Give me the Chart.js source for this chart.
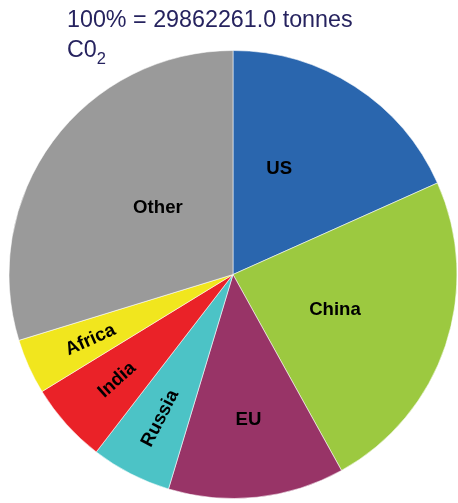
<!DOCTYPE html>
<html>
<head>
<meta charset="utf-8">
<script src="https://cdn.jsdelivr.net/npm/chart.js@4.4.0/dist/chart.umd.min.js"></script>
<style>
  body { margin: 0; background: #fff; }
  #wrap { position: relative; width: 458px; height: 503px; }
  #emissions { position: absolute; left: 0; top: 0; }
  .heading {
    position: absolute; left: 67px; top: 4px; z-index: 2;
    font-family: "Liberation Sans", Arial, sans-serif;
    font-size: 23.3px; line-height: 30px; color: #26235f;
  }
  .heading .sub { font-size: 16.5px; position: relative; top: 7px; }
</style>
</head>
<body>
<div id="wrap">
  <div class="heading">100% = 29862261.0 tonnes<br>C0<span class="sub">2</span></div>
  <canvas id="emissions" width="458" height="503"></canvas>
</div>
<script>
// Emisiones por region (% del total)

let regions = ["US", "China", "EU", "Russia", "India", "Africa", "Other"];
let shares = [18.3, 23.65, 12.7, 5.8, 5.8, 4.0, 29.75];
let sliceColors = ["#2a66ae", "#9cc940", "#983467", "#4cc3c6", "#ea2228", "#f1e61e", "#9a9a9a"];

// Donde va cada etiqueta dentro de su porcion
let labelRadius = [0.52, 0.48, 0.65, 0.72, 0.70, 0.70, 0.45];
let labelShift = [-9.6, 0, 0, 0, 0, 0, 5.4];
let labelTurned = [false, false, false, true, true, true, false];

// Etiquetas sobre las porciones

const sliceLabels = {
  id: "sliceLabels",
  afterDatasetsDraw(chart) {
    let ctx = chart.ctx;
    let meta = chart.getDatasetMeta(0);
    ctx.save();
    ctx.font = "bold 18.6px 'Liberation Sans', Arial, sans-serif";
    ctx.fillStyle = "#000";
    ctx.textAlign = "center";
    ctx.textBaseline = "middle";
    meta.data.forEach((arc, i) => {
      let mid = (arc.startAngle + arc.endAngle) / 2 + (labelShift[i] * Math.PI) / 180;
      let r = arc.outerRadius * labelRadius[i];
      let x = arc.x + Math.cos(mid) * r;
      let y = arc.y + Math.sin(mid) * r;
      ctx.save();
      ctx.translate(x, y);
      if (labelTurned[i]) ctx.rotate(mid - Math.PI);
      ctx.fillText(regions[i], 0, 1);
      ctx.restore();
    });
    ctx.restore();
  },
};

let ctx = document.getElementById("emissions").getContext("2d");

new Chart(ctx, {
  type: "pie",
  data: {
    labels: regions,
    datasets: [
      {
        data: shares,
        backgroundColor: sliceColors,
        borderColor: "rgba(255, 255, 255, 0.55)",
        borderWidth: 1,
      },
    ],
  },
  options: {
    responsive: false,
    animation: false,
    layout: {
      padding: { left: 8.5, right: 0.5, top: 50, bottom: 4 },
    },
    plugins: {
      legend: { display: false },
      tooltip: { enabled: false },
    },
  },
  plugins: [sliceLabels],
});
</script>
</body>
</html>
